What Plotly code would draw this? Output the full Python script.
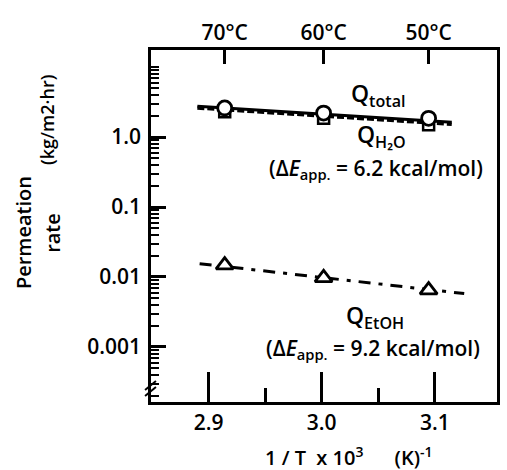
import plotly.graph_objects as go

# ---- data ----
temps_C = [70, 60, 50]                      # measurement temperatures
inv_T = [1000.0 / (t + 273.15) for t in temps_C]   # 1/T x 10^3 (K^-1)

q_total = [2.6, 2.2, 1.85]
q_h2o = [2.3, 1.85, 1.5]
q_etoh = [0.0148, 0.0097, 0.0065]

fit_x = [2.89, 3.115]
fit_total = [2.75, 1.62]
fit_h2o = [2.6, 1.52]
fit_etoh_x = [2.892, 3.126]
fit_etoh = [0.0155, 0.0058]

y_tickvals = [1, 0.1, 0.01, 0.001]
y_ticktext = ["1.0", "0.1", "0.01", "0.001"]
x_tickvals = [2.9, 3.0, 3.1]
x_ticktext = ["2.9", "3.0", "3.1"]
top_ticktext = [f"{t}°C" for t in temps_C]

FONT = "Open Sans"
WEIGHT = 600
W, H = 507, 470
L, R, T, B = 151, 7, 50, 68

fig = go.Figure()

# fit lines
fig.add_trace(go.Scatter(x=fit_x, y=fit_h2o, mode="lines",
                         line=dict(color="black", width=3.5, dash="7px,3px"), showlegend=False))
fig.add_trace(go.Scatter(x=fit_x, y=fit_total, mode="lines",
                         line=dict(color="black", width=3), showlegend=False))
fig.add_trace(go.Scatter(x=fit_etoh_x, y=fit_etoh, mode="lines",
                         line=dict(color="black", width=3, dash="12px,8px,4px,8px"), showlegend=False))

# markers
fig.add_trace(go.Scatter(x=inv_T, y=q_h2o, mode="markers",
                         marker=dict(symbol="square", size=11, color="white",
                                     line=dict(color="black", width=2.5)), showlegend=False))
fig.add_trace(go.Scatter(x=inv_T, y=q_total, mode="markers",
                         marker=dict(symbol="circle", size=14, color="white",
                                     line=dict(color="black", width=2.8)), showlegend=False))
fig.add_trace(go.Scatter(x=inv_T, y=q_etoh, mode="markers",
                         marker=dict(symbol="triangle-up", size=15, color="white",
                                     line=dict(color="black", width=2.8)), showlegend=False))

# invisible trace for top axis
fig.add_trace(go.Scatter(x=inv_T, y=q_total, xaxis="x2", mode="markers",
                         marker=dict(opacity=0), showlegend=False, hoverinfo="skip"))

xr = [2.849, 3.155]
yr = [-3.786, 1.243]
TICKF = dict(size=21, family=FONT, color="black", weight=WEIGHT)

fig.update_layout(
    width=W, height=H,
    margin=dict(l=L, r=R, t=T, b=B),
    paper_bgcolor="white", plot_bgcolor="white",
    font=dict(family=FONT, size=20, color="black", weight=WEIGHT),
    xaxis=dict(range=xr, tickvals=x_tickvals, ticktext=x_ticktext,
               ticks="inside", ticklen=30, tickwidth=2.5, tickcolor="black",
               minor=dict(ticks="inside", ticklen=14, tickwidth=2.5, tickcolor="black",
                          tickvals=[2.95, 3.05]),
               showline=True, linewidth=2.5, linecolor="black", mirror=True,
               showgrid=False, zeroline=False, tickfont=TICKF),
    xaxis2=dict(range=xr, overlaying="x", side="top", tickvals=inv_T, ticktext=top_ticktext,
                ticks="inside", ticklen=14, tickwidth=2.5, tickcolor="black",
                ticklabelstandoff=5,
                showline=False, showgrid=False, zeroline=False, tickfont=TICKF),
    yaxis=dict(type="log", range=yr, tickvals=y_tickvals, ticktext=y_ticktext,
               ticks="inside", ticklen=15, tickwidth=2.5, tickcolor="black",
               minor=dict(ticks="inside", ticklen=8, tickwidth=2, tickcolor="black", dtick="D1"),
               ticklabelstandoff=3,
               showline=True, linewidth=2.5, linecolor="black", mirror=True,
               showgrid=False, zeroline=False, tickfont=TICKF),
)

def px(x):
    return (x - L) / (W - L - R)

def py(y):
    return (H - B - y) / (H - T - B)

ann = [
    dict(text="Q<sub>total</sub>", x=px(380), y=py(94), size=23),
    dict(text="Q<sub>H₂O</sub>", x=px(383), y=py(135), size=23),
    dict(text="(Δ<i>E</i><sub>app.</sub> = 6.2 kcal/mol)", x=px(378), y=py(169), size=21),
    dict(text="Q<sub>EtOH</sub>", x=px(377), y=py(316), size=23),
    dict(text="(Δ<i>E</i><sub>app.</sub> = 9.2 kcal/mol)", x=px(375), y=py(349), size=21),
    dict(text="1 / T&nbsp;&nbsp;x 10<sup>3</sup>&nbsp;&nbsp;&nbsp;&nbsp;&nbsp;&nbsp;(K)<sup>-1</sup>",
         x=px(351), y=py(456), size=20),
]
for a in ann:
    fig.add_annotation(text=a["text"], x=a["x"], y=a["y"], xref="paper", yref="paper",
                       showarrow=False,
                       font=dict(size=a["size"], family=FONT, color="black", weight=WEIGHT),
                       xanchor="center", yanchor="middle")

for txt, xx, yy, sz in [("Permeation", 22, 233, 20), ("rate", 51, 233, 20), ("(kg/m2·hr)", 46, 120, 18)]:
    fig.add_annotation(text=txt, x=px(xx), y=py(yy), xref="paper", yref="paper",
                       showarrow=False, textangle=-90,
                       font=dict(size=sz, family=FONT, color="black", weight=WEIGHT),
                       xanchor="center", yanchor="middle")

# axis break mark
for dy in (0, 6):
    fig.add_shape(type="line", xref="paper", yref="paper",
                  x0=px(145), y0=py(390 + dy), x1=px(156), y1=py(381 + dy),
                  line=dict(color="black", width=2))

fig.write_html("out.html", config={"displayModeBar": False},
               post_script="document.body.style.margin='0px';")
